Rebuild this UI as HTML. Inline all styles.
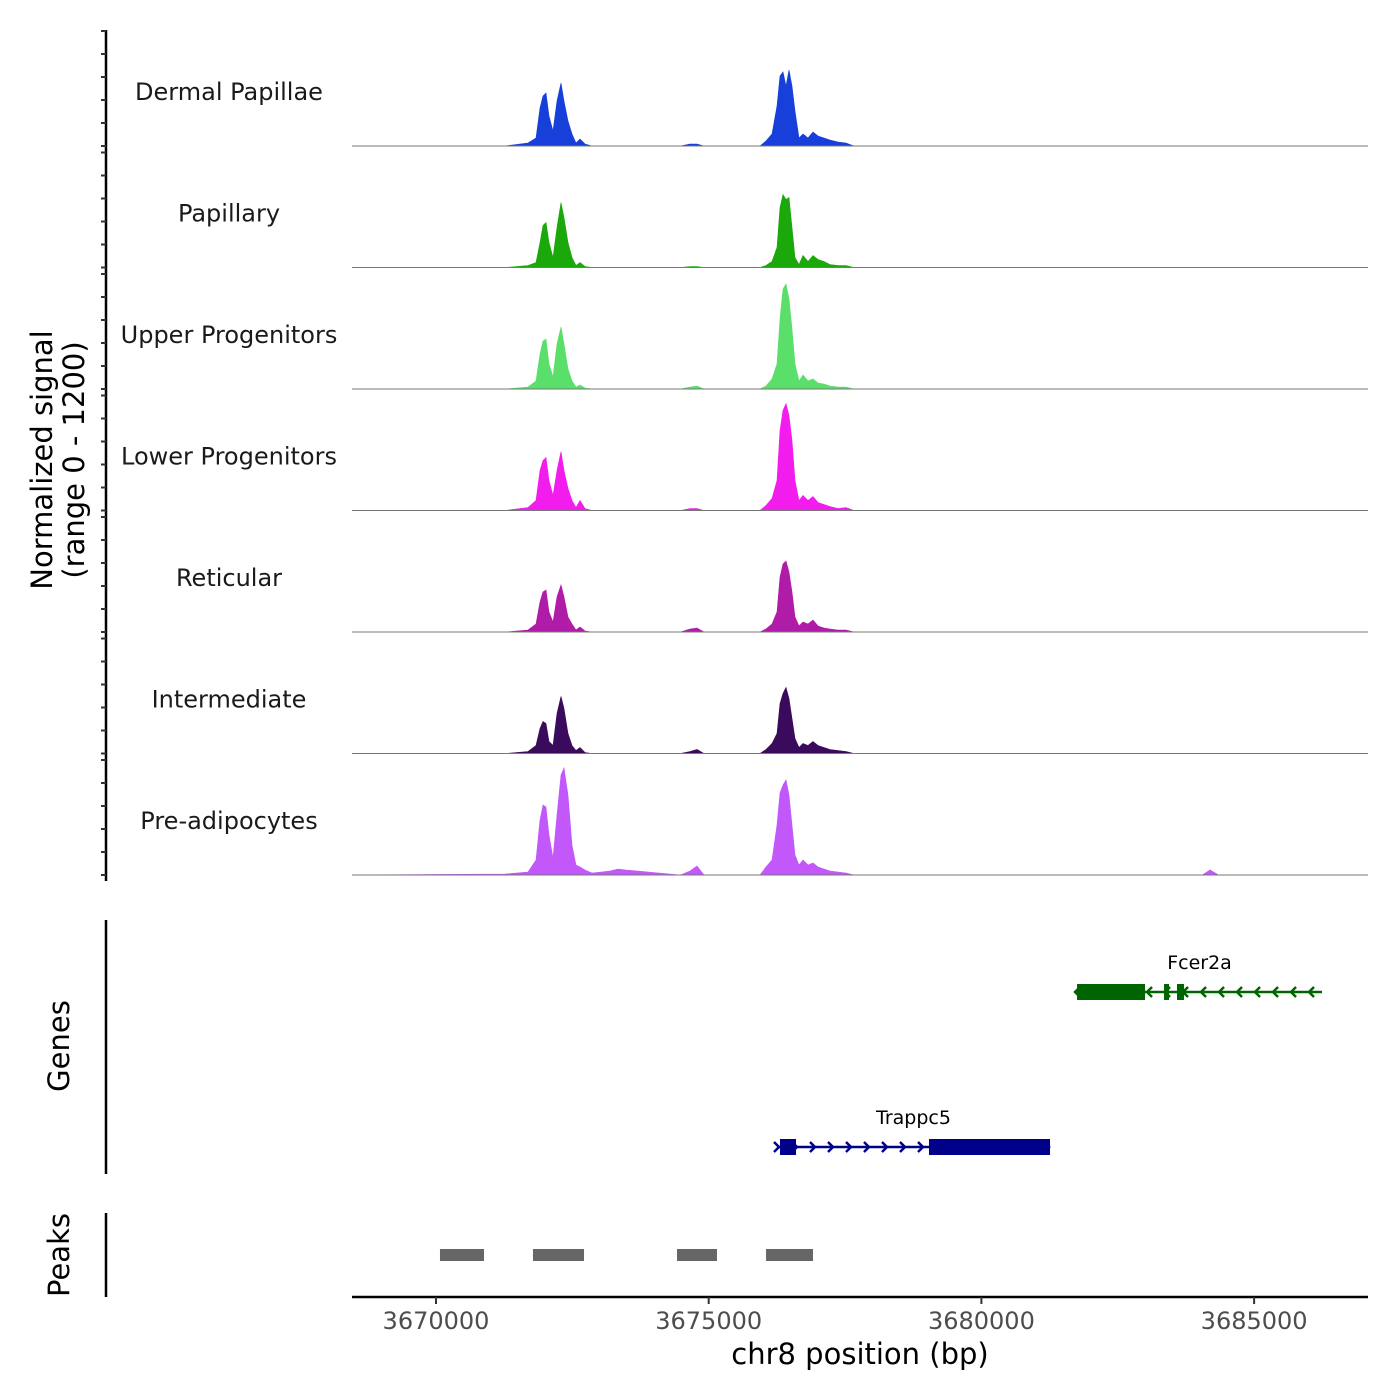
<!DOCTYPE html>
<html><head><meta charset="utf-8"><style>
html,body{margin:0;padding:0;background:#fff;}
svg{display:block;font-family:"DejaVu Sans","Liberation Sans",sans-serif;}
</style></head><body>
<svg id="chart" width="1400" height="1400" viewBox="0 0 1400 1400" xmlns="http://www.w3.org/2000/svg">
<g id="tracks"></g>
<g id="yaxis"></g>
<text transform="translate(52,460) rotate(-90)" text-anchor="middle" font-size="29" fill="#000">Normalized signal</text>
<text transform="translate(84,460) rotate(-90)" text-anchor="middle" font-size="29" fill="#000">(range 0 - 1200)</text>
<line x1="106" y1="920" x2="106" y2="1174" stroke="#000" stroke-width="2.5"/>
<text transform="translate(69,1046) rotate(-90)" text-anchor="middle" font-size="29" fill="#000">Genes</text>
<g id="genes"></g>
<line x1="106" y1="1213" x2="106" y2="1297" stroke="#000" stroke-width="2.5"/>
<text transform="translate(69,1255) rotate(-90)" text-anchor="middle" font-size="29" fill="#000">Peaks</text>
<g id="peaks"></g>
<g id="xaxis"></g>
<text x="860" y="1364" text-anchor="middle" font-size="29" fill="#000">chr8 position (bp)</text>
</svg>
<script>
const positions=[3668460,3671265,3671687,3671834,3671907,3671962,3672017,3672072,3672145,3672219,3672292,3672347,3672420,3672494,3672567,3672640,3672732,3672860,3673190,3673337,3673484,3674480,3674657,3674785,3674914,3675941,3676051,3676161,3676252,3676307,3676362,3676417,3676472,3676527,3676582,3676656,3676729,3676821,3676912,3677004,3677114,3677224,3677371,3677517,3677664,3684050,3684191,3684350,3687088];
const groups=["Dermal Papillae","Papillary","Upper Progenitors","Lower Progenitors","Reticular","Intermediate","Pre-adipocytes"];
const groupColors=["#173fd9","#1aa80a","#5adf6a","#f21ded","#b01ba8","#3a0a5c","#c257fa"];
const sigDermal=[0,0,30,80,380,500,530,300,150,450,630,450,250,120,30,70,20,0,0,0,0,0,20,20,0,0,50,120,400,700,740,600,760,600,350,80,120,80,140,100,80,60,40,30,0,0,0,0,0];
const sigPapillary=[0,0,20,50,250,420,450,250,100,400,650,500,250,100,20,50,10,0,0,0,0,0,10,10,0,0,20,60,200,600,730,680,700,400,100,30,120,60,120,80,60,30,20,20,0,0,0,0,0];
const sigUpper=[0,0,20,80,350,480,500,250,120,450,620,450,200,80,20,40,10,0,0,0,0,0,20,30,0,0,30,100,250,700,1000,1050,900,600,250,80,140,80,100,60,50,30,20,20,0,0,0,0,0];
const sigLower=[0,0,30,100,400,500,530,300,150,400,590,400,220,100,30,100,20,0,0,0,0,0,20,20,0,0,50,120,300,800,1000,1070,950,700,300,100,150,100,140,80,60,40,20,30,0,0,0,0,0];
const sigReticular=[0,0,20,80,300,400,420,200,100,350,470,350,150,80,20,50,10,0,0,0,0,0,30,40,0,0,30,80,200,550,680,710,600,400,150,60,100,80,120,60,40,30,20,20,0,0,0,0,0];
const sigIntermediate=[0,0,20,80,250,320,300,120,80,400,570,450,200,80,30,60,10,0,0,0,0,0,20,40,0,0,40,100,200,500,600,660,550,350,150,60,100,80,120,80,60,40,30,20,0,0,0,0,0];
const sigPre=[0,10,30,150,550,700,680,400,170,600,1000,1070,800,300,100,80,50,20,40,60,50,0,40,90,0,0,80,150,500,820,900,950,800,500,200,100,150,100,120,80,60,40,30,20,0,0,50,0,0];
const series=[sigDermal,sigPapillary,sigUpper,sigLower,sigReticular,sigIntermediate,sigPre];
const xTicks=[3670000,3675000,3680000,3685000];
const xTickLabels=["3670000","3675000","3680000","3685000"];
const peakStarts=[3670073,3671778,3674419,3676051];
const peakEnds=[3670880,3672714,3675152,3676912];
const geneNames=["Fcer2a","Trappc5"];
const geneStarts=[3681753,3676252];
const geneEnds=[3686245,3681258];
const geneStrands=[-1,1];
const exonStarts=[[3681753,3683348,3683586],[3676307,3679039]];
const exonEnds=[[3683000,3683440,3683715],[3676601,3681258]];
const geneColors=["#006400","#00008b"];

const NS="http://www.w3.org/2000/svg";
const X0=352,X1=1368,D0=3668460,D1=3687088;
const xs=v=>X0+(v-D0)/(D1-D0)*(X1-X0);
const baselines=[146,267.5,389,510.5,632,753.5,875];
const ys=(v,b)=>b-v*0.1;
function mk(tag,attrs,parent){const e=document.createElementNS(NS,tag);for(const k in attrs)e.setAttribute(k,attrs[k]);parent.appendChild(e);return e;}
const tracks=document.getElementById('tracks');
series.forEach((s,i)=>{
  const b=baselines[i];
  let d=`M${xs(positions[0])},${b}`;
  positions.forEach((p,j)=>{d+=` L${xs(p).toFixed(1)},${ys(s[j],b).toFixed(1)}`;});
  d+=` L${xs(positions[positions.length-1])},${b} Z`;
  const a=mk('path',{d:d,fill:groupColors[i],stroke:groupColors[i],'stroke-width':0.6},tracks);
  
  
  const l=mk('line',{x1:X0,x2:X1,y1:b,y2:b,stroke:'#777','stroke-width':1},tracks);
  
  
  const t=mk('text',{x:229,y:b-46,'text-anchor':'middle','font-size':24,fill:'#1a1a1a'},tracks);
  t.textContent=groups[i];
  
  
});
const ya=document.getElementById('yaxis');
const yl=mk('line',{x1:106,x2:106,y1:30,y2:881,stroke:'#000','stroke-width':2.5},ya);


baselines.forEach(b=>{for(let k=0;k<=5;k++){
  const t=mk('line',{x1:101,x2:106,y1:b-k*23,y2:b-k*23,stroke:'#333','stroke-width':2},ya);
  
  
}});
const ge=document.getElementById('genes');
const geneY=[992,1147];
geneNames.forEach((n,i)=>{
  const y=geneY[i],c=geneColors[i];
  const l=mk('line',{x1:xs(geneStarts[i]),x2:xs(geneEnds[i]),y1:y,y2:y,stroke:c,'stroke-width':2.5},ge);
  
  
  const a0=xs(geneStarts[i]),a1=xs(geneEnds[i]);
  for(let x=a0;x<=a1+1;x+=18){
    const dir=geneStrands[i];
    const pth=dir>0?`M${x-3},${y-5} L${x+2},${y} L${x-3},${y+5}`:`M${x+3},${y-5} L${x-2},${y} L${x+3},${y+5}`;
    const ar=mk('path',{d:pth,fill:'none',stroke:c,'stroke-width':2.5},ge);
    
    
  }
  exonStarts[i].forEach((s,j)=>{
    const r=mk('rect',{x:xs(s),y:y-8,width:xs(exonEnds[i][j])-xs(s),height:16,fill:c},ge);
    
    
  });
  const t=mk('text',{x:(a0+a1)/2,y:y-23,'text-anchor':'middle','font-size':19,fill:'#000'},ge);
  t.textContent=n;
  
  
});
const pk=document.getElementById('peaks');
peakStarts.forEach((s,i)=>{
  const r=mk('rect',{x:xs(s),y:1249,width:xs(peakEnds[i])-xs(s),height:12,fill:'#666'},pk);
  
  
});
const xa=document.getElementById('xaxis');
const xl=mk('line',{x1:X0,x2:X1,y1:1297,y2:1297,stroke:'#000','stroke-width':2.5},xa);


xTicks.forEach((v,i)=>{
  const t=mk('line',{x1:xs(v),x2:xs(v),y1:1297,y2:1304,stroke:'#333','stroke-width':2},xa);
  
  
  const l=mk('text',{x:xs(v),y:1329,'text-anchor':'middle','font-size':24,fill:'#4d4d4d'},xa);
  l.textContent=xTickLabels[i];
  
  
});
</script>
</body></html>
